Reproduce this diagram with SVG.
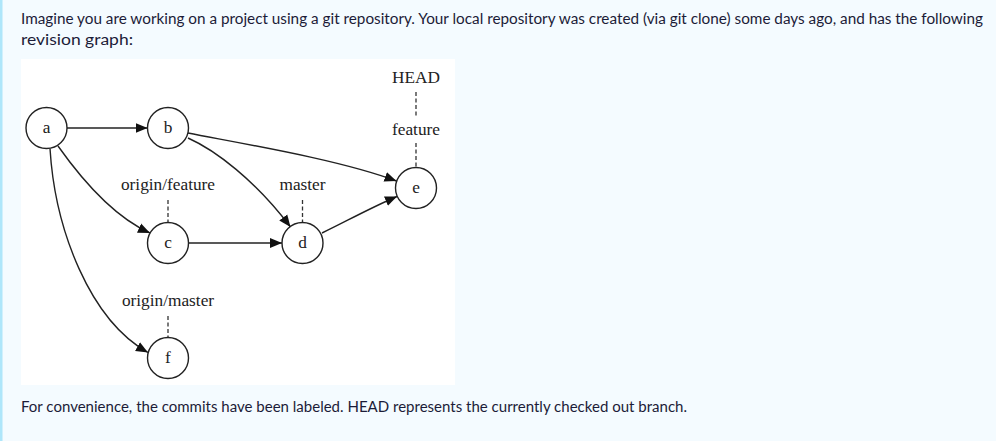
<svg xmlns="http://www.w3.org/2000/svg" width="996" height="441" viewBox="0 0 996 441">
<style>
.para{font-family:Lato,"Noto Sans","Liberation Sans",sans-serif;font-size:15.5px;fill:#1c1c38}
.lbl{font-family:"Liberation Serif","Times New Roman",serif;font-size:17.3px;fill:#222;text-anchor:middle}
.node circle{fill:#fff;stroke:#222;stroke-width:1.4}
.edge{fill:none;stroke:#222;stroke-width:1.4;marker-end:url(#arr)}
.ref{fill:none;stroke:#333;stroke-width:1.3;stroke-dasharray:4,2.5}
</style>
<defs>
<marker id="arr" markerUnits="userSpaceOnUse" markerWidth="13" markerHeight="11" refX="12" refY="5" orient="auto" viewBox="0 0 13 10">
<path d="M0,0 L12,5 L0,10 Z" fill="#111"/>
</marker>
</defs>
<rect width="996" height="441" fill="#f4fbff"/>
<rect x="0" y="0" width="2.5" height="441" fill="#aee6fa"/>
<text class="para" x="21" y="24" textLength="962" lengthAdjust="spacingAndGlyphs">Imagine you are working on a project using a git repository. Your local repository was created (via git clone) some days ago, and has the following</text>
<text class="para" x="21" y="45" textLength="112" lengthAdjust="spacingAndGlyphs">revision graph:</text>
<rect x="21" y="59" width="434" height="326" fill="#fff"/>
<g id="connectors">
<path class="edge" d="M67,128 L147.5,128"/>
<path class="edge" d="M188.5,243 L282,243"/>
<path class="edge" d="M188,133 C250,145 340,160 396.5,181"/>
<path class="edge" d="M188,138 C215,150 255,180 290.5,227"/>
<path class="edge" d="M58,146 C75,170 110,215 150,233"/>
<path class="edge" d="M50,148.5 C55,230 90,320 148,352.5"/>
<path class="edge" d="M322,233 C345,222 370,208 397,196.5"/>
<line class="ref" x1="416" y1="92" x2="416" y2="116"/>
<line class="ref" x1="416" y1="143" x2="416" y2="167.5"/>
<line class="ref" x1="168" y1="200" x2="168" y2="222.5"/>
<line class="ref" x1="302.5" y1="200" x2="302.5" y2="222.5"/>
<line class="ref" x1="168" y1="316" x2="168" y2="337.5"/>
</g>
<g id="node-a" class="node"><circle cx="46.5" cy="128" r="20.5"/><text class="lbl" x="46.5" y="133">a</text></g>
<g id="node-b" class="node"><circle cx="168" cy="128" r="20.5"/><text class="lbl" x="168" y="133">b</text></g>
<g id="node-c" class="node"><circle cx="168" cy="243" r="20.5"/><text class="lbl" x="168" y="248">c</text></g>
<g id="node-d" class="node"><circle cx="302.5" cy="243" r="20.5"/><text class="lbl" x="302.5" y="248">d</text></g>
<g id="node-e" class="node"><circle cx="416" cy="188" r="20.5"/><text class="lbl" x="416" y="193">e</text></g>
<g id="node-f" class="node"><circle cx="168" cy="358" r="20.5"/><text class="lbl" x="168" y="363">f</text></g>
<g id="label-HEAD"><text class="lbl" x="416" y="83">HEAD</text></g>
<g id="label-feature"><text class="lbl" x="416" y="135">feature</text></g>
<g id="label-origin-feature"><text class="lbl" x="168" y="190">origin/feature</text></g>
<g id="label-master"><text class="lbl" x="302.5" y="190">master</text></g>
<g id="label-origin-master"><text class="lbl" x="168" y="306">origin/master</text></g>
<text class="para" x="21" y="412" textLength="666" lengthAdjust="spacingAndGlyphs">For convenience, the commits have been labeled. HEAD represents the currently checked out branch.</text>
</svg>
